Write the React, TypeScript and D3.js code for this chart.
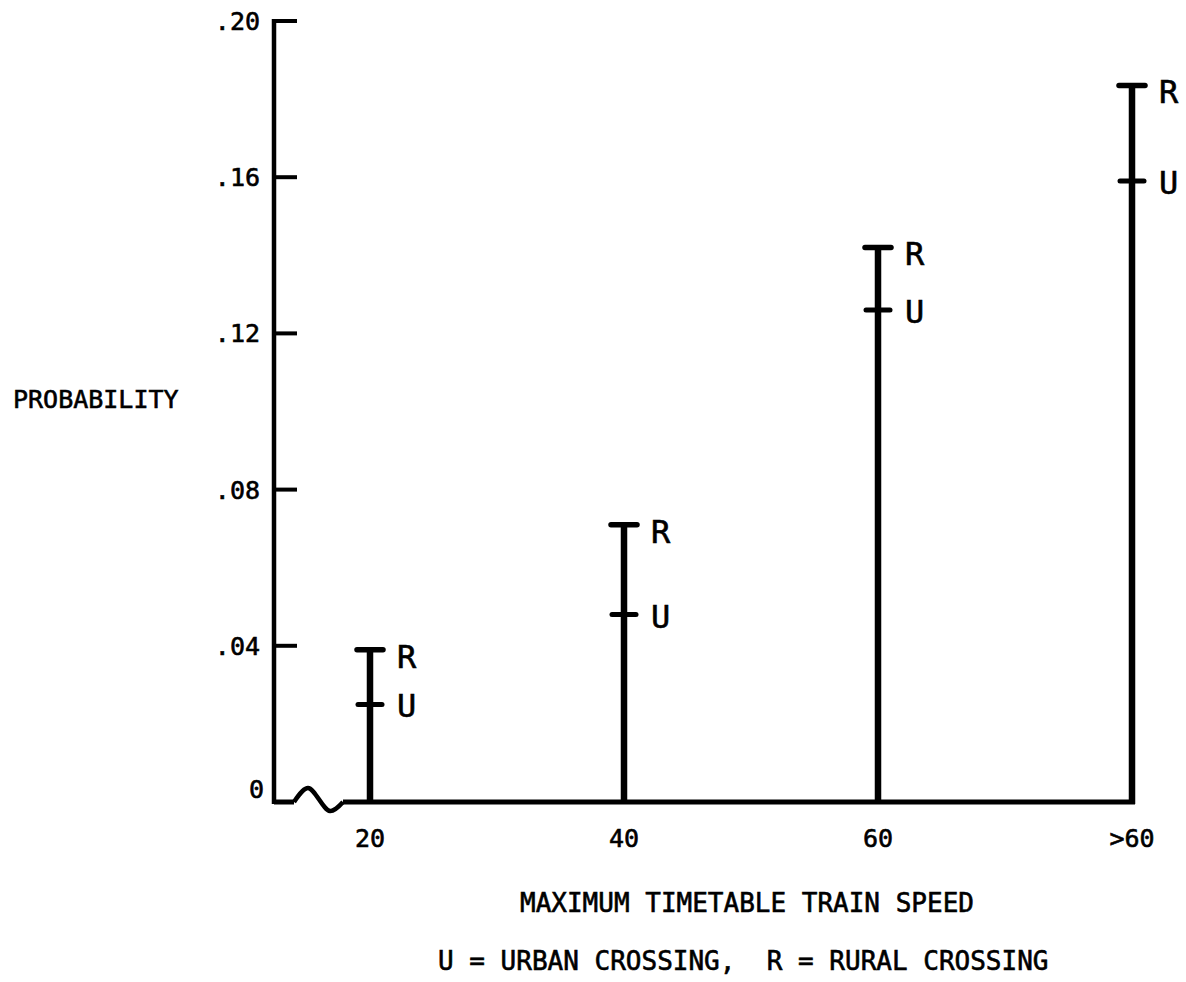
import React from 'react';
import * as d3 from 'd3';

// speeds on the x axis and the probability read at each one
const speeds = ['20', '40', '60', '>60'];
const urban = [0.025, 0.048, 0.126, 0.159];
const rural = [0.039, 0.071, 0.142, 0.1835];

const yTicks = [0, 0.04, 0.08, 0.12, 0.16, 0.2];
const yTickLabels = ['0', '.04', '.08', '.12', '.16', '.20'];

const font = "'DejaVu Sans Mono', monospace";

// slightly heavier text, like the typed original
const textStyle = { stroke: '#000', strokeWidth: 0.6 };

const App = () => {
  const width = 1186;
  const height = 982;

  // axis origin
  const x0 = 274;

  const y = d3.scaleLinear().domain([0, 0.2]).range([802, 21]);
  const x = d3.scalePoint().domain(speeds).range([370, 1132]);

  const y0 = y(0);

  // broken baseline between the axis and the first speed
  const breakLine = d3.line().curve(d3.curveCatmullRom)([
    [x0 + 20, y0],
    [x0 + 34, y0 - 14],
    [x0 + 56, y0 + 9],
    [x0 + 69, y0],
  ]);

  return (
    <svg
      width={width}
      height={height}
      style={{ position: 'absolute', left: 0, top: 0, background: '#fff' }}
    >
      {/* y axis */}
      <line x1={x0} x2={x0} y1={y(0.2) - 2} y2={y0 + 2} stroke="#000" strokeWidth={4.5} />
      {yTicks.map((t, i) => (
        <g key={i}>
          {i > 0 && (
            <line x1={x0} x2={x0 + 23} y1={y(t)} y2={y(t)} stroke="#000" strokeWidth={4} />
          )}
          <text
            x={i === 0 ? 264 : 260}
            y={i === 0 ? y(t) - 4 : y(t) + 9}
            textAnchor="end"
            fontFamily={font}
            fontSize={25}
            style={textStyle}
          >
            {yTickLabels[i]}
          </text>
        </g>
      ))}

      {/* x axis with break */}
      <path d={`M${x0},${y0}H${x0 + 20}`} stroke="#000" strokeWidth={5} fill="none" />
      <path d={breakLine} stroke="#000" strokeWidth={4.5} fill="none" />
      <line x1={x0 + 69} x2={x(speeds[3]) + 3} y1={y0} y2={y0} stroke="#000" strokeWidth={5} />

      {speeds.map((s, i) => (
        <g key={s}>
          <line
            x1={x(s)}
            x2={x(s)}
            y1={y0 + 2}
            y2={y(rural[i])}
            stroke="#000"
            strokeWidth={6.5}
          />
          {/* rural cap */}
          <line
            x1={x(s) - 13}
            x2={x(s) + 13}
            y1={y(rural[i])}
            y2={y(rural[i])}
            stroke="#000"
            strokeWidth={5.5}
            strokeLinecap="round"
          />
          {/* urban tick */}
          <line
            x1={x(s) - 12}
            x2={x(s) + 12}
            y1={y(urban[i])}
            y2={y(urban[i])}
            stroke="#000"
            strokeWidth={5}
            strokeLinecap="round"
          />
          <text x={x(s) + 27} y={y(rural[i]) + 18} fontFamily={font} fontSize={32} style={textStyle}>
            R
          </text>
          <text x={x(s) + 27} y={y(urban[i]) + 13} fontFamily={font} fontSize={32} style={textStyle}>
            U
          </text>
          <text
            x={x(s)}
            y={847}
            textAnchor="middle"
            fontFamily={font}
            fontSize={25}
            style={textStyle}
          >
            {s}
          </text>
        </g>
      ))}

      <text x={13} y={408} fontFamily={font} fontSize={25} style={textStyle}>
        PROBABILITY
      </text>
      <text x={520} y={912} fontFamily={font} fontSize={26} style={textStyle}>
        MAXIMUM TIMETABLE TRAIN SPEED
      </text>
      <text
        x={438}
        y={970}
        fontFamily={font}
        fontSize={26}
        style={{ ...textStyle, whiteSpace: 'pre' }}
      >
        {'U = URBAN CROSSING,  R = RURAL CROSSING'}
      </text>
    </svg>
  );
};

export default App;
